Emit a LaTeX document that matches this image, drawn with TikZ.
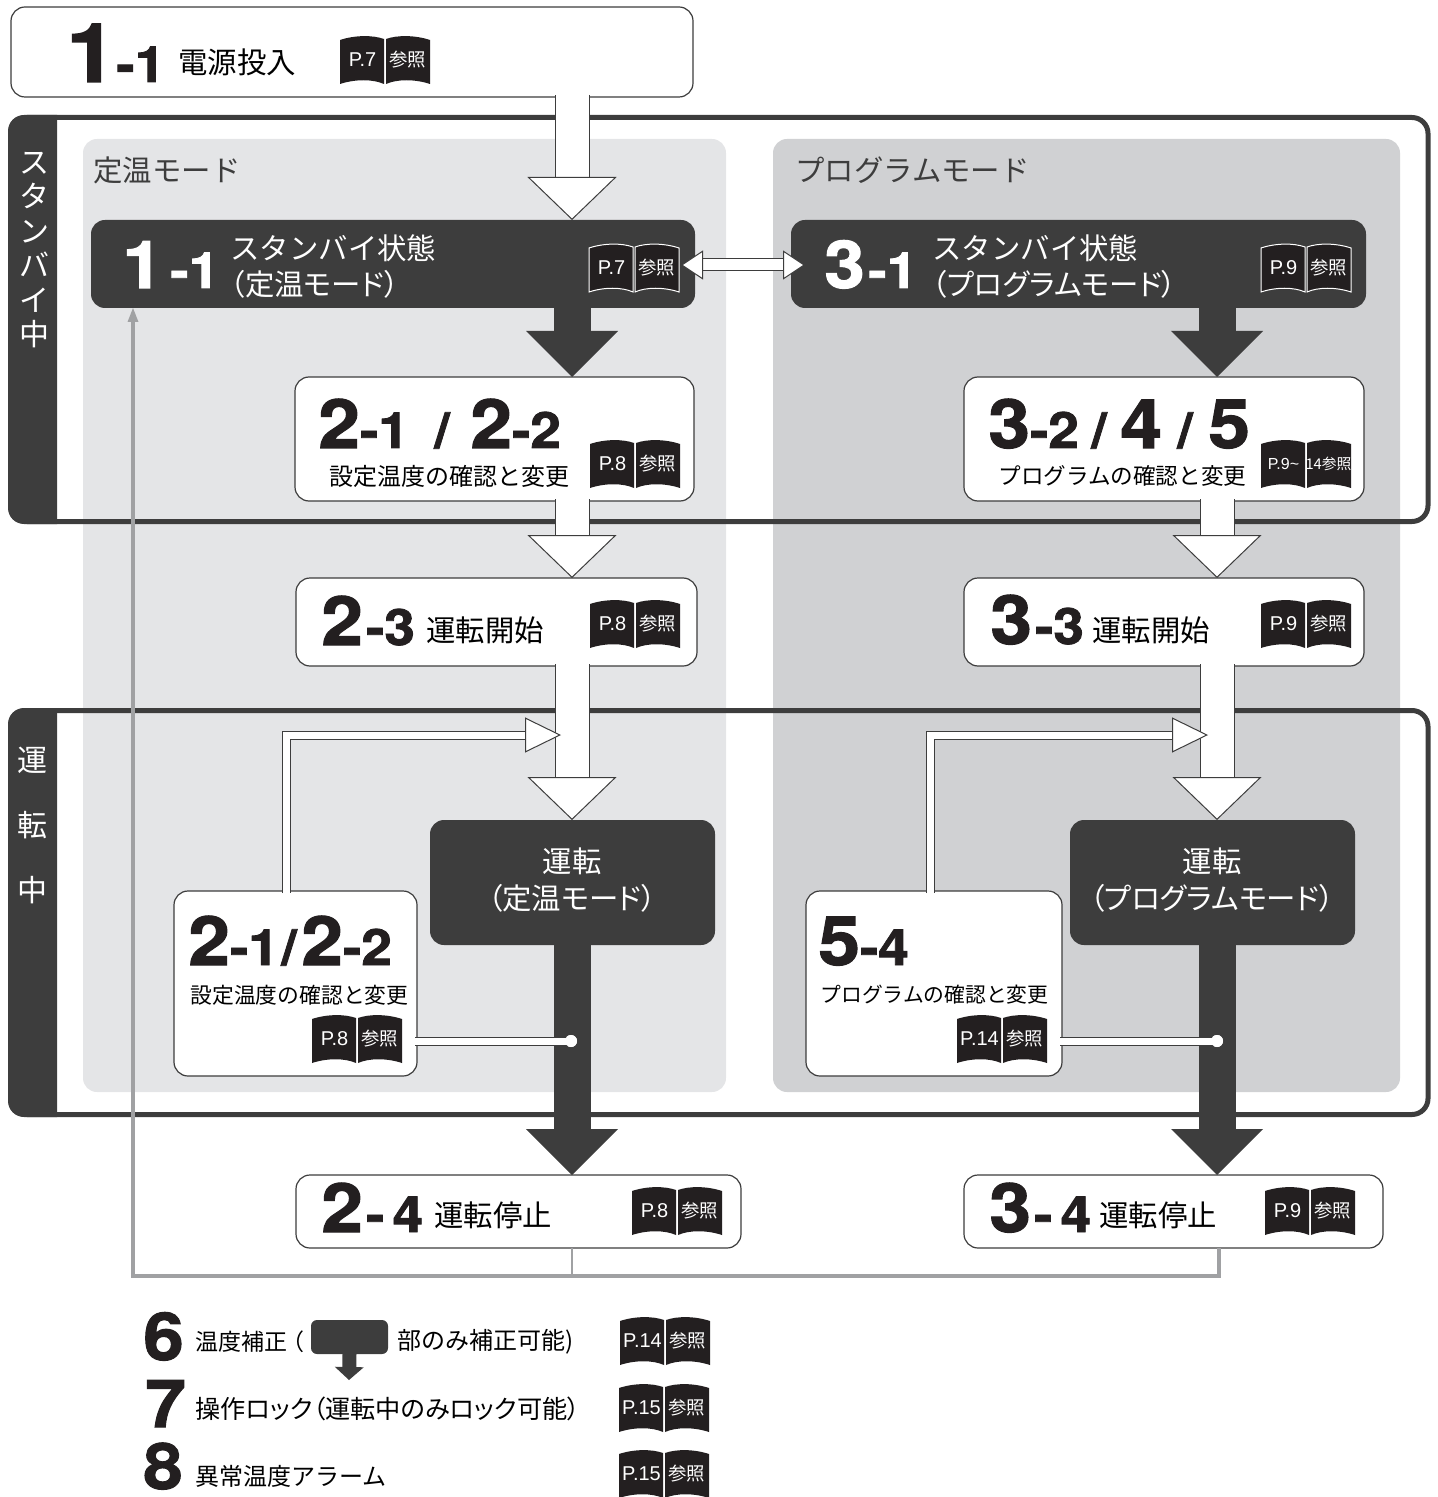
\documentclass[tikz,border=0pt]{standalone}
\usepackage{fontspec}
\usetikzlibrary{arrows.meta}
\setmainfont{Liberation Sans}
\newfontfamily\cjk{Noto Sans CJK JP}
\newfontfamily\cjkp[RawFeature=+palt]{Noto Sans CJK JP}
\newfontfamily\numfont[FakeStretch=1.1,FakeBold=1.6]{TeX Gyre Heros Bold}
\newcommand{\dg}[2]{{\fontsize{#1}{#1}\selectfont #2}}
\definecolor{dark}{HTML}{3D3D3D}
\definecolor{bookblack}{HTML}{231F20}
\definecolor{panela}{HTML}{E4E5E7}
\definecolor{panelb}{HTML}{D0D1D3}
\definecolor{backgrey}{HTML}{A0A1A3}
\tikzset{
    bookpage/.style = {fill=bookblack},
    outlined/.style = {bookpage/.style = {fill=bookblack, draw=white, line width=0.5pt}},
    pics/refbook/.style 2 args = {code = {
        \path[bookpage] (-45,-20) .. controls (-30,-25) and (-12,-25) .. (-1,-21) -- (-1,24) .. controls (-12,19) and (-30,19) .. (-45,24) -- cycle;
        \path[bookpage] (45,-20) .. controls (30,-25) and (12,-25) .. (1,-21) -- (1,24) .. controls (12,19) and (30,19) .. (45,24) -- cycle;
        \node[white, inner sep=0, font=\fontsize{10}{11}\selectfont] (left) at (-22.5,0) {#1};
        \node[white, inner sep=0, font=\cjk\fontsize{9.2}{10}\selectfont] (right) at (22.5,0) {#2};
    }}
}
\begin{document}
\begin{tikzpicture}[x=0.5pt, y=-0.5pt,
    boxsize/.style 2 args = {minimum width=#1*0.5pt, minimum height=#2*0.5pt},
    main/.style = {draw=dark, line width=0.6pt, fill=white, rounded corners=7pt, inner sep=0, outer sep=0},
    state/.style = {fill=dark, rounded corners=7pt, inner sep=0, outer sep=0},
    panel/.style = {rounded corners=7pt, inner sep=0, outer sep=0},
    frame/.style = {draw=dark, line width=2.5pt, rounded corners=8pt, inner sep=0, outer sep=0},
    jp/.style = {font=\cjk\fontsize{14.7}{17}\selectfont, inner sep=0, anchor=west},
    jpp/.style = {font=\cjkp\fontsize{14.7}{17}\selectfont, inner sep=0, anchor=west},
    jpsmall/.style = {font=\cjk\fontsize{11.5}{14}\selectfont, inner sep=0, anchor=west},
    num/.style = {font=\numfont, inner sep=0, anchor=base west, text=bookblack},
    hollow/.style = {draw=dark, line width=0.5pt, double=white, double distance=16.5pt, shorten <=-1pt,
        -{Triangle[length=21.5pt, width=44.5pt, fill=white, line width=0.5pt]}},
    solid arrow/.style = {draw=dark, line width=18.5pt,
        -{Triangle[length=23pt, width=46pt, line width=0pt]}},
    bent/.style = {draw=dark, line width=0.5pt, double=white, double distance=3.5pt, shorten <=-1pt, line join=miter,
        -{Triangle[length=18pt, width=17.5pt, fill=white, line width=0.5pt]}},
    swap/.style = {draw=dark, line width=0.5pt, double=white, double distance=5.5pt,
        {Triangle[length=11pt, width=14.5pt, fill=white, line width=0.5pt]}-{Triangle[length=11pt, width=14.5pt, fill=white, line width=0.5pt]}},
    tap/.style = {draw=dark, line width=0.5pt, double=white, double distance=3.5pt, shorten <=-1pt},
    dot/.style = {circle, fill=white, minimum size=6pt, inner sep=0},
    back/.style = {draw=backgrey, line width=1.6pt}]
    \useasboundingbox (0,0) rectangle (1438,1497);

    % column positions
    \coordinate (col1) at (572,0);
    \coordinate (col2) at (1217,0);
    \coordinate (rise1) at (286,0);
    \coordinate (rise2) at (930,0);
    \coordinate (join1) at (561,735);
    \coordinate (join2) at (1208,735);
    \coordinate (dot1pos) at (571,1041);
    \coordinate (dot2pos) at (1217,1041);
    \coordinate (swapl) at (681,265);
    \coordinate (swapr) at (805,265);
    \coordinate (corner) at (133,1276);
    \coordinate (stop1) at (572,0);
    \coordinate (stop2) at (1219,0);
    \coordinate (sampletip) at (349,1380);

    % panels and frames
    \node[panel, fill=panela, boxsize={643}{953}] (const) at (404.5,615.5) {};
    \node[panel, fill=panelb, boxsize={627}{953}] (prog) at (1086.5,615.5) {};
    \node[frame, boxsize={1417}{404}] (standby) at (719.5,319.5) {};
    \node[frame, boxsize={1417}{404}] (running) at (719.5,912.5) {};
    \fill[dark] (57,115) [rounded corners=8pt] -- (8,115) -- (8,524) [sharp corners] -- (57,524) -- cycle;
    \fill[dark] (57,708) [rounded corners=8pt] -- (8,708) -- (8,1117) [sharp corners] -- (57,1117) -- cycle;
    \node[white, inner sep=0, align=center, font=\cjk\fontsize{15}{17.2}\selectfont] (standbytext) at (34,250) {ス\\タ\\ン\\バ\\イ\\中};
    \node[white, inner sep=0, align=center, font=\cjk\fontsize{15}{32.5}\selectfont] (runningtext) at (33,825) {運\\転\\中};
    \node[jp, text=dark] (consttext) at (93,170) {定温モード};
    \node[jp, text=dark] (progtext) at (795,170) {プログラムモード};

    % boxes
    \node[main, boxsize={682}{90}] (power) at (352,52) {};
    \node[state, boxsize={604}{88}] (wait1) at (393,264) {};
    \node[state, boxsize={575}{88}] (wait3) at (1078.5,264) {};
    \node[main, boxsize={399}{124}] (set1) at (494.5,439) {};
    \node[main, boxsize={400}{124}] (set3) at (1164,439) {};
    \node[main, boxsize={401}{88}] (start1) at (496.5,622) {};
    \node[main, boxsize={400}{88}] (start3) at (1164,622) {};
    \node[state, boxsize={285}{125}] (run1) at (572.5,882.5) {};
    \node[state, boxsize={285}{125}] (run3) at (1212.5,882.5) {};
    \node[main, boxsize={243}{185}] (edit1) at (295.5,983.5) {};
    \node[main, boxsize={256}{185}] (edit3) at (934,983.5) {};
    \node[main, boxsize={445}{73}] (stop1box) at (518.5,1211.5) {};
    \node[main, boxsize={419}{73}] (stop3box) at (1173.5,1211.5) {};

    % numbers
    \node[num] (n1) at (66,82) {\dg{41}{1}};
    \node[num] (n1b) at (116,82) {\dg{25}{-1}};
    \node[num, text=white] (n2) at (122,288) {\dg{33}{1}};
    \node[num, text=white] (n2b) at (170,288) {\dg{25}{-1}};
    \node[num, text=white] (n3) at (824,288) {\dg{33}{3}};
    \node[num, text=white] (n3b) at (868,288) {\dg{25}{-1}};
    \node[num] (n4) at (318,448) {\dg{34}{2}\dg{25}{-1}};
    \node[num] (n5) at (434,448) {\dg{25}{/}};
    \node[num] (n6) at (470,448) {\dg{34}{2}\dg{25}{-2}};
    \node[num] (n7) at (988,448) {\dg{34}{3}\dg{25}{-2}};
    \node[num] (n8) at (1091,448) {\dg{25}{/}};
    \node[num] (n9) at (1120,448) {\dg{34}{4}};
    \node[num] (n10) at (1177,448) {\dg{25}{/}};
    \node[num] (n11) at (1208,448) {\dg{34}{5}};
    \node[num] (n12) at (321,645) {\dg{34}{2}\kern1.5pt\dg{25}{-3}};
    \node[num] (n13) at (990,644) {\dg{34}{3}\kern1.5pt\dg{25}{-3}};
    \node[num] (n14) at (188,965) {\dg{34}{2}\dg{25}{-1}};
    \node[num] (n15) at (281,965) {\dg{25}{/}};
    \node[num] (n16) at (301,965) {\dg{34}{2}\dg{25}{-2}};
    \node[num] (n17) at (818,965) {\dg{34}{5}\dg{25}{-4}};
    \node[num] (n18) at (321,1232) {\dg{34}{2}\kern1.5pt\dg{25}{-\,4}};
    \node[num] (n19) at (989,1232) {\dg{34}{3}\kern1.5pt\dg{25}{-\,4}};
    \node[num] (n20) at (143,1360) {\dg{33}{6}};
    \node[num] (n21) at (145,1427) {\dg{33}{7}};
    \node[num] (n22) at (143,1489) {\dg{32}{8}};

    % labels
    \node[jp] (t1) at (178,62) {電源投入};
    \node[jp, text=white] (t2) at (230,248) {スタンバイ状態};
    \node[jpp, text=white] (t3) at (230,284) {（定温モード）};
    \node[jp, text=white] (t4) at (932,248) {スタンバイ状態};
    \node[jpp, text=white] (t5) at (932,284) {（プログラムモード）};
    \node[jpsmall, font=\cjk\fontsize{12}{14}\selectfont] (t6) at (329,476) {設定温度の確認と変更};
    \node[jpsmall, font=\cjk\fontsize{11.3}{14}\selectfont] (t7) at (998,476) {プログラムの確認と変更};
    \node[jp] (t8) at (426,630) {運転開始};
    \node[jp] (t9) at (1092,630) {運転開始};
    \node[white, inner sep=0, align=center, font=\cjkp\fontsize{14.7}{18.5}\selectfont] (t10) at (572,880) {運転\\（定温モード）};
    \node[white, inner sep=0, align=center, font=\cjkp\fontsize{14.7}{18.5}\selectfont] (t11) at (1212,880) {運転\\（プログラムモード）};
    \node[jpsmall, font=\cjk\fontsize{10.9}{13}\selectfont] (t12) at (190,995) {設定温度の確認と変更};
    \node[jpsmall, font=\cjk\fontsize{10.4}{13}\selectfont] (t13) at (820,995) {プログラムの確認と変更};
    \node[jp] (t14) at (434,1215) {運転停止};
    \node[jp] (t15) at (1099,1215) {運転停止};
    \node[jpsmall] (t16) at (195,1342) {温度補正\kern-3pt（};
    \node[jpsmall, font=\cjk\fontsize{12}{13}\selectfont] (t17) at (397,1342) {部のみ補正可能)};
    \node[jpsmall, font=\cjkp\fontsize{12.6}{13}\selectfont] (t18) at (195,1409) {操作ロック（運転中のみロック可能）};
    \node[jpsmall, font=\cjk\fontsize{12}{13}\selectfont] (t19) at (195,1476) {異常温度アラーム};

    % reference books
    \pic (b1) at (385,60) {refbook={P.7}{参照}};
    \pic[outlined] (b2) at (634,268) {refbook={P.7}{参照}};
    \pic[outlined] (b3) at (1306,268) {refbook={P.9}{参照}};
    \pic (b4) at (635,464) {refbook={P.8}{参照}};
    \pic (b5) at (1306,464) {refbook={\fontsize{8}{9}\selectfont P.9\textasciitilde}{\fontsize{7.4}{9}\selectfont 14参照}};
    \pic (b6) at (635,624) {refbook={P.8}{参照}};
    \pic (b7) at (1306,624) {refbook={P.9}{参照}};
    \pic (b8) at (357,1039) {refbook={P.8}{参照}};
    \pic (b9) at (1002,1039) {refbook={P.14}{参照}};
    \pic (b10) at (677,1211) {refbook={P.8}{参照}};
    \pic (b11) at (1310,1211) {refbook={P.9}{参照}};
    \pic (b12) at (665,1341) {refbook={P.14}{参照}};
    \pic (b13) at (664,1408) {refbook={P.15}{参照}};
    \pic (b14) at (664,1474) {refbook={P.15}{参照}};

    % flow arrows
    \draw[back] (stop3box.south -| stop2) -- (stop2 |- corner) -- (corner) -- (wait1.south -| corner) [-{Triangle[length=7pt, width=5.5pt, line width=0pt]}];
    \draw[back, line width=1pt] (stop1box.south -| stop1) -- (stop1 |- corner);
    \draw[hollow] (power.south -| col1) -- (wait1.north -| col1);
    \draw[solid arrow] (wait1.south -| col1) -- (set1.north -| col1);
    \draw[solid arrow] (wait3.south -| col2) -- (set3.north -| col2);
    \draw[hollow] (set1.south -| col1) -- (start1.north -| col1);
    \draw[hollow] (set3.south -| col2) -- (start3.north -| col2);
    \draw[hollow] (start1.south -| col1) -- (run1.north -| col1);
    \draw[hollow] (start3.south -| col2) -- (run3.north -| col2);
    \draw[solid arrow] (run1.south -| col1) -- (stop1box.north -| col1);
    \draw[solid arrow] (run3.south -| col2) -- (stop3box.north -| col2);
    \draw[bent] (edit1.north -| rise1) |- (join1);
    \draw[bent] (edit3.north -| rise2) |- (join2);
    \draw[swap] (swapl) -- (swapr);
    \node[dot] (dot1) at (dot1pos) {};
    \node[dot] (dot2) at (dot2pos) {};
    \draw[tap] (edit1.east |- dot1) -- (dot1.center);
    \draw[tap] (edit3.east |- dot2) -- (dot2.center);
    \node[dot] (cap1) at (dot1pos) {};
    \node[dot] (cap2) at (dot2pos) {};

    % sample of a dark state
    \node[state, rounded corners=3pt, boxsize={77}{34}] (sample) at (349.5,1337) {};
    \draw[draw=dark, line width=7pt, -{Triangle[length=6.5pt, width=14.5pt, line width=0pt]}] (sample.south) -- (sampletip);
\end{tikzpicture}
\end{document}
